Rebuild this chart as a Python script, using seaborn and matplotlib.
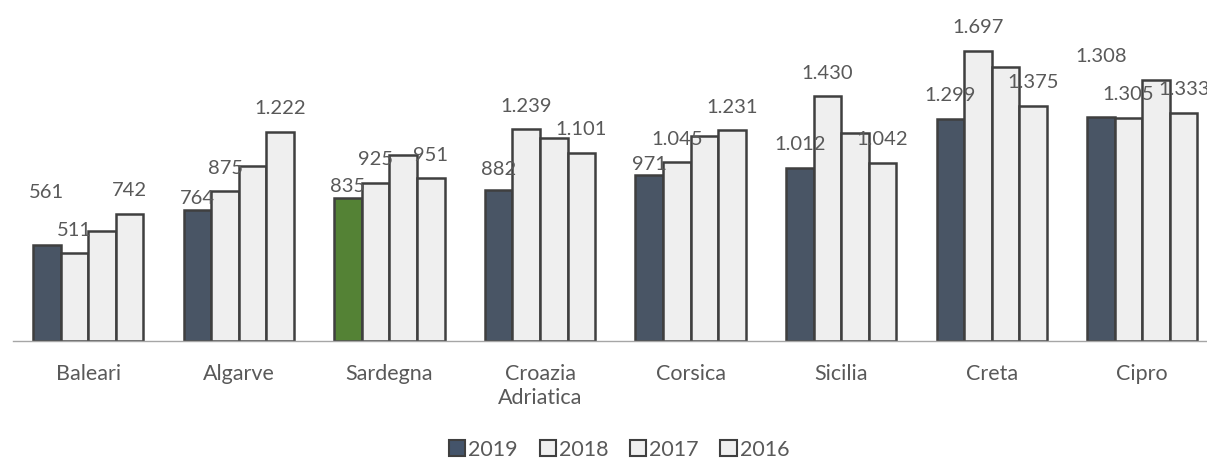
import pandas as pd
import matplotlib
matplotlib.use("Agg")
import matplotlib.pyplot as plt
from matplotlib.patches import Patch
import seaborn as sns

# data (2017 has no labels in the source)
regions = ["Baleari", "Algarve", "Sardegna", "Croazia\nAdriatica", "Corsica", "Sicilia", "Creta", "Cipro"]
years = ["2019", "2018", "2017", "2016"]
v2019 = [561, 764, 835, 882, 971, 1012, 1299, 1308]
v2018 = [511, 875, 925, 1239, 1045, 1430, 1697, 1305]
v2017 = [642, 1022, 1084, 1184, 1201, 1217, 1600, 1526]
v2016 = [742, 1222, 951, 1101, 1231, 1042, 1375, 1333]
labelled_years = ["2019", "2018", "2016"]
highlight_region = "Sardegna"

# styling
DARK = "#44546A"
GREEN = "#548235"
LIGHT = "#EFEFEF"
EDGE = "#3F3F3F"
TEXT = "#595959"
AXIS = "#A6A6A6"
FS_LAB = 14.5
FS_TICK = 15.5
# extra vertical shift (px) of the 2019 labels, as they sit in the source
lift_2019 = [29, -11, -11, -2, -13, 0, 0, 38]

rows = []
for y, vals in zip(years, [v2019, v2018, v2017, v2016]):
    for r, v in zip(regions, vals):
        rows.append({"region": r, "year": y, "value": v})
df = pd.DataFrame(rows)

sns.set_style("white")
plt.rcParams["font.family"] = ["Lato", "DejaVu Sans"]

fig = plt.figure(figsize=(12.07, 4.64), dpi=100)
ax = fig.add_axes([13 / 1207, 122.3 / 464, 1204.6 / 1207, 341.7 / 464])

palette = {"2019": DARK, "2018": LIGHT, "2017": LIGHT, "2016": LIGHT}
sns.barplot(data=df, x="region", y="value", hue="year", hue_order=years,
            order=regions, palette=palette, width=0.733, edgecolor=EDGE,
            linewidth=1.8, legend=False, ax=ax)

# Sardegna 2019 in green
ax.containers[0].patches[regions.index(highlight_region)].set_facecolor(GREEN)

ax.set_ylim(0, 2000)
ax.set_xlim(-0.5, len(regions) - 0.5)

def fmt(v):
    return f"{v:,}".replace(",", ".")

for cont, y in zip(ax.containers, years):
    if y not in labelled_years:
        continue
    for i, p in enumerate(cont.patches):
        lift = lift_2019[i] if y == "2019" else 0
        ax.annotate(fmt(int(round(p.get_height()))),
                    (p.get_x() + p.get_width() / 2, p.get_height()),
                    xytext=(0, (24 + lift) * 0.72), textcoords="offset points",
                    ha="center", va="center", fontsize=FS_LAB, color=TEXT,
                    annotation_clip=False)

ax.set_xlabel("")
ax.set_ylabel("")
ax.set_yticks([])
for s in ["top", "right", "left"]:
    ax.spines[s].set_visible(False)
ax.spines["bottom"].set_color(AXIS)
ax.spines["bottom"].set_linewidth(1.0)
ax.set_xticks(range(len(regions)))
ax.set_xticklabels(regions, fontsize=FS_TICK, color=TEXT, linespacing=1.25)
ax.set_xticks([i - 0.5 for i in range(len(regions) + 1)], minor=True)
ax.tick_params(axis="x", which="major", length=0, pad=16)
ax.tick_params(axis="x", which="minor", length=6, width=1.0, color=AXIS, direction="out")

handles = [Patch(facecolor=palette[y], edgecolor=EDGE, linewidth=1.5, label=y) for y in years]
fig.legend(handles=handles, loc="lower center", bbox_to_anchor=(0.513, -0.02), ncol=4,
           frameon=False, fontsize=FS_TICK, handlelength=0.75, handleheight=0.75,
           handletextpad=0.15, columnspacing=1.0, labelcolor=TEXT,
           borderpad=0.1)

fig.savefig("out.png", dpi=100)
